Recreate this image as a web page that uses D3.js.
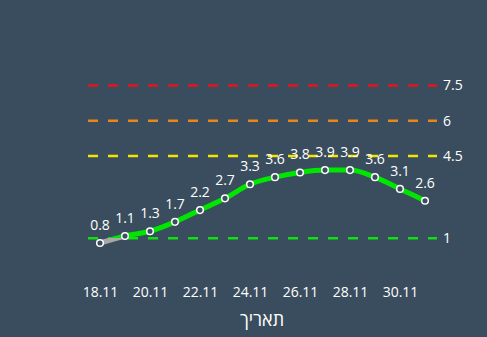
<!DOCTYPE html>
<html><head><meta charset="utf-8">
<script src="https://cdn.jsdelivr.net/npm/d3@7"></script>
<style>
html,body{margin:0;padding:0;background:#3a4d5e;}
svg{display:block;}
text{font-family:"Open Sans",sans-serif;fill:#ffffff;}
</style></head>
<body>
<svg id="c" width="487" height="337"></svg>
<script>
const dates = ["18.11","19.11","20.11","21.11","22.11","23.11","24.11","25.11","26.11","27.11","28.11","29.11","30.11","1.12"];
const values = [0.8,1.1,1.3,1.7,2.2,2.7,3.3,3.6,3.8,3.9,3.9,3.6,3.1,2.6];
const tickLabels = ["18.11","20.11","22.11","24.11","26.11","28.11","30.11"];
const thresholds = [7.5,6,4.5,1];
const thresholdColors = ["#e5141b","#e8861c","#f2e600","#10e010"];
const axisTitle = "תאריך";

const svg = d3.select("#c");
const x = d3.scalePoint().domain(dates).range([100,425]);
const y = d3.scaleLinear().domain([1,4.5]).range([238.3,156]);

thresholds.forEach((t,i)=>{
  svg.append("line").attr("x1",88).attr("x2",437).attr("y1",y(t)).attr("y2",y(t))
    .attr("stroke",thresholdColors[i]).attr("stroke-width",2.5).attr("stroke-dasharray","10,10");
  svg.append("text").attr("x",443).attr("y",y(t)).attr("dy","0.36em")
    .attr("font-size",14).text(t);
});

const defs = svg.append("defs");
const g = defs.append("linearGradient").attr("id","lg").attr("gradientUnits","userSpaceOnUse")
  .attr("x1",0).attr("x2",0).attr("y1",0).attr("y2",337);
const off = y(1)/337;
g.append("stop").attr("offset",off).attr("stop-color","#00e600");
g.append("stop").attr("offset",off).attr("stop-color","#a8a8a8");
g.append("stop").attr("offset",1).attr("stop-color","#a8a8a8");

const line = d3.line().x((d,i)=>x(dates[i])).y(d=>y(d)).curve(d3.curveMonotoneX);
svg.append("path").datum(values).attr("d",line).attr("fill","none")
  .attr("stroke","url(#lg)").attr("stroke-width",5).attr("stroke-linejoin","round");

svg.selectAll("circle.p").data(values).enter().append("circle")
  .attr("cx",(d,i)=>x(dates[i])).attr("cy",d=>y(d)).attr("r",3.3)
  .attr("fill","#3a4d5e").attr("stroke","#ffffff").attr("stroke-width",1.5);

svg.selectAll("text.v").data(values).enter().append("text")
  .attr("x",(d,i)=>x(dates[i])).attr("y",d=>y(d)-13)
  .attr("text-anchor","middle").attr("font-size",14).text(d=>d.toFixed(1));

const xa = svg.append("g").attr("transform","translate(0,282)")
  .call(d3.axisBottom(x).tickValues(tickLabels).tickSize(0).tickPadding(5));
xa.select(".domain").remove();
xa.selectAll("text").attr("font-size",14).attr("fill","#fff").attr("font-family","Open Sans, sans-serif");

svg.append("text").attr("x",262).attr("y",326).attr("text-anchor","middle")
  .attr("font-size",18).text(axisTitle);
</script>
</body></html>
